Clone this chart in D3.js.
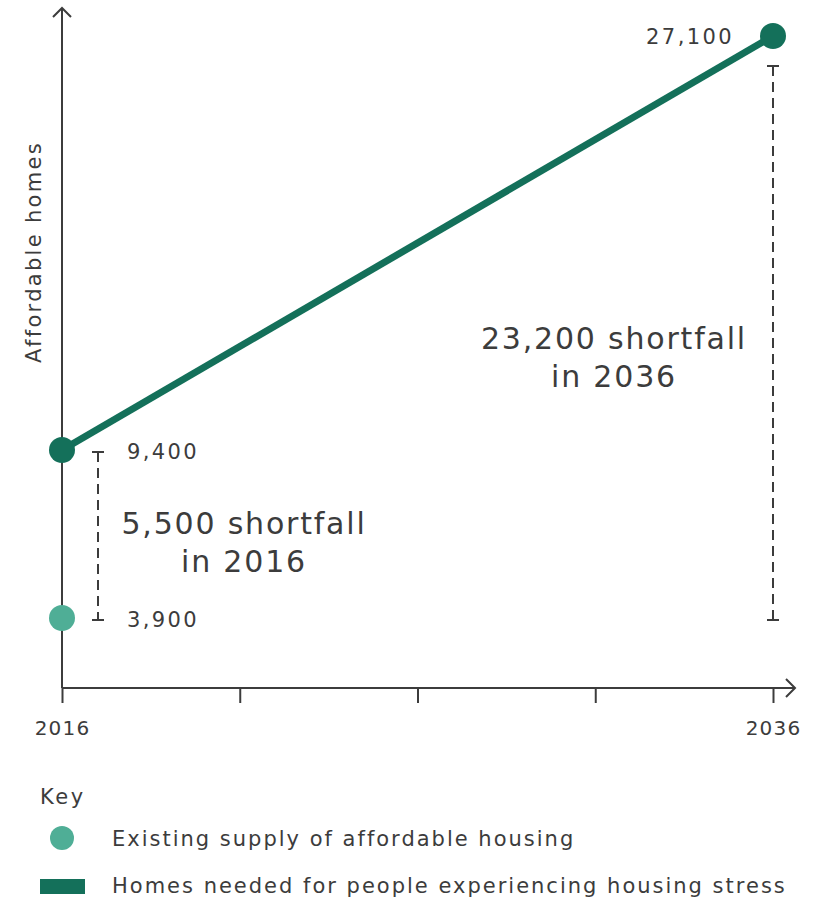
<!DOCTYPE html>
<html>
<head>
<meta charset="utf-8">
<script src="https://cdn.jsdelivr.net/npm/d3@7"></script>
<style>
  body { margin: 0; background: #fff; }
  svg text { font-family: 'DejaVu Sans', sans-serif; fill: #3c3c3c; }
</style>
</head>
<body>
<div id="chart"></div>
<script>
// data
const years = [2016, 2036];
const needed = [9400, 27100];   // homes needed (housing stress)
const supply = [3900, 3900];    // existing supply of affordable housing
const tickYears = [2016, 2021, 2026, 2031, 2036];
const keyLabels = ['Existing supply of affordable housing', 'Homes needed for people experiencing housing stress'];

const width = 817;
const height = 898;
const dark = '#14705a';
const light = '#4fae96';
const ink = '#3c3c3c';

const svg = d3.select('#chart').append('svg')
  .attr('width', width)
  .attr('height', height);

const x = d3.scaleLinear().domain([2016, 2036]).range([62, 773]);
// the original is not drawn to scale, so use a piecewise scale
const y = d3.scaleLinear().domain([0, 3900, 9400, 27100]).range([688, 618, 450, 36]);

const fmt = d3.format(',');

// axes
svg.append('line')
  .attr('x1', x(2016)).attr('x2', x(2016))
  .attr('y1', 688).attr('y2', 8)
  .attr('stroke', ink).attr('stroke-width', 2);
svg.append('path')
  .attr('d', `M${x(2016) - 9},17 L${x(2016)},8 L${x(2016) + 9},17`)
  .attr('fill', 'none').attr('stroke', ink).attr('stroke-width', 2);

const xAxis = svg.append('g')
  .attr('transform', 'translate(0,688)')
  .call(d3.axisBottom(x).tickValues(tickYears).tickSize(15)
    .tickFormat((d) => (d === 2016 || d === 2036 ? d : '')));
xAxis.select('.domain').remove();
xAxis.selectAll('.tick line').attr('stroke', ink).attr('stroke-width', 2);
xAxis.selectAll('.tick text')
  .attr('y', 47)
  .attr('dy', null)
  .style('font-family', "'DejaVu Sans', sans-serif")
  .style('font-size', '20px')
  .style('letter-spacing', '1.2px');
svg.append('line')
  .attr('x1', x(2016)).attr('x2', 795)
  .attr('y1', 688).attr('y2', 688)
  .attr('stroke', ink).attr('stroke-width', 2);
svg.append('path')
  .attr('d', 'M786,679 L795,688 L786,697')
  .attr('fill', 'none').attr('stroke', ink).attr('stroke-width', 2);

svg.append('text')
  .attr('transform', 'translate(41,252) rotate(-90)')
  .attr('text-anchor', 'middle')
  .style('font-size', '21px')
  .style('letter-spacing', '2.3px')
  .text('Affordable homes');

// shortfall brackets
years.forEach((yr, i) => {
  const bx = i === 0 ? x(yr) + 36 : x(yr);
  const top = i === 0 ? y(needed[i]) + 2 : y(needed[i]) + 30;
  const bot = y(supply[i]) + 2;
  const g = svg.append('g').attr('stroke', ink).attr('stroke-width', 2);
  g.append('line').attr('x1', bx).attr('x2', bx).attr('y1', top).attr('y2', bot)
    .attr('stroke-dasharray', '10,6');
  g.append('line').attr('x1', bx - 6).attr('x2', bx + 6).attr('y1', top).attr('y2', top);
  g.append('line').attr('x1', bx - 6).attr('x2', bx + 6).attr('y1', bot).attr('y2', bot);
});

// line of homes needed
svg.append('path')
  .datum(years.map((d, i) => [d, needed[i]]))
  .attr('d', d3.line().x((d) => x(d[0])).y((d) => y(d[1])))
  .attr('fill', 'none')
  .attr('stroke', dark)
  .attr('stroke-width', 7);

svg.selectAll('circle.need')
  .data(years)
  .join('circle')
  .attr('class', 'need')
  .attr('cx', (d) => x(d))
  .attr('cy', (d, i) => y(needed[i]))
  .attr('r', 13)
  .attr('fill', dark);

svg.append('circle')
  .attr('cx', x(years[0]))
  .attr('cy', y(supply[0]))
  .attr('r', 13)
  .attr('fill', light);

// value labels
const valStyle = (t) => t.style('font-size', '21px').style('letter-spacing', '2.4px');
svg.append('text').attr('x', 127).attr('y', y(needed[0]) + 9)
  .call(valStyle).text(fmt(needed[0]));
svg.append('text').attr('x', 127).attr('y', y(supply[0]) + 9)
  .call(valStyle).text(fmt(supply[0]));
svg.append('text').attr('x', 734).attr('y', y(needed[1]) + 8)
  .attr('text-anchor', 'end')
  .call(valStyle).text(fmt(needed[1]));

// shortfall annotations
const notes = [
  { cx: 244, cy: 534, year: years[0], value: needed[0] - supply[0] },
  { cx: 614, cy: 349, year: years[1], value: needed[1] - supply[1] },
];
notes.forEach((n) => {
  const t = svg.append('text').attr('text-anchor', 'middle')
    .style('font-size', '30px').style('letter-spacing', '1.8px');
  t.append('tspan').attr('x', n.cx).attr('y', n.cy).text(`${fmt(n.value)} shortfall`);
  t.append('tspan').attr('x', n.cx).attr('y', n.cy + 38).text(`in ${n.year}`);
});

// key
svg.append('text').attr('x', 40).attr('y', 804)
  .style('font-size', '21px').style('letter-spacing', '2.5px').text('Key');
svg.append('circle').attr('cx', 62).attr('cy', 838).attr('r', 12).attr('fill', light);
svg.append('rect').attr('x', 40).attr('y', 879).attr('width', 45).attr('height', 15).attr('fill', dark);
keyLabels.forEach((lab, i) => {
  svg.append('text').attr('x', 112).attr('y', 846 + i * 47)
    .style('font-size', '21px').style('letter-spacing', '2px').text(lab);
});
</script>
</body>
</html>
